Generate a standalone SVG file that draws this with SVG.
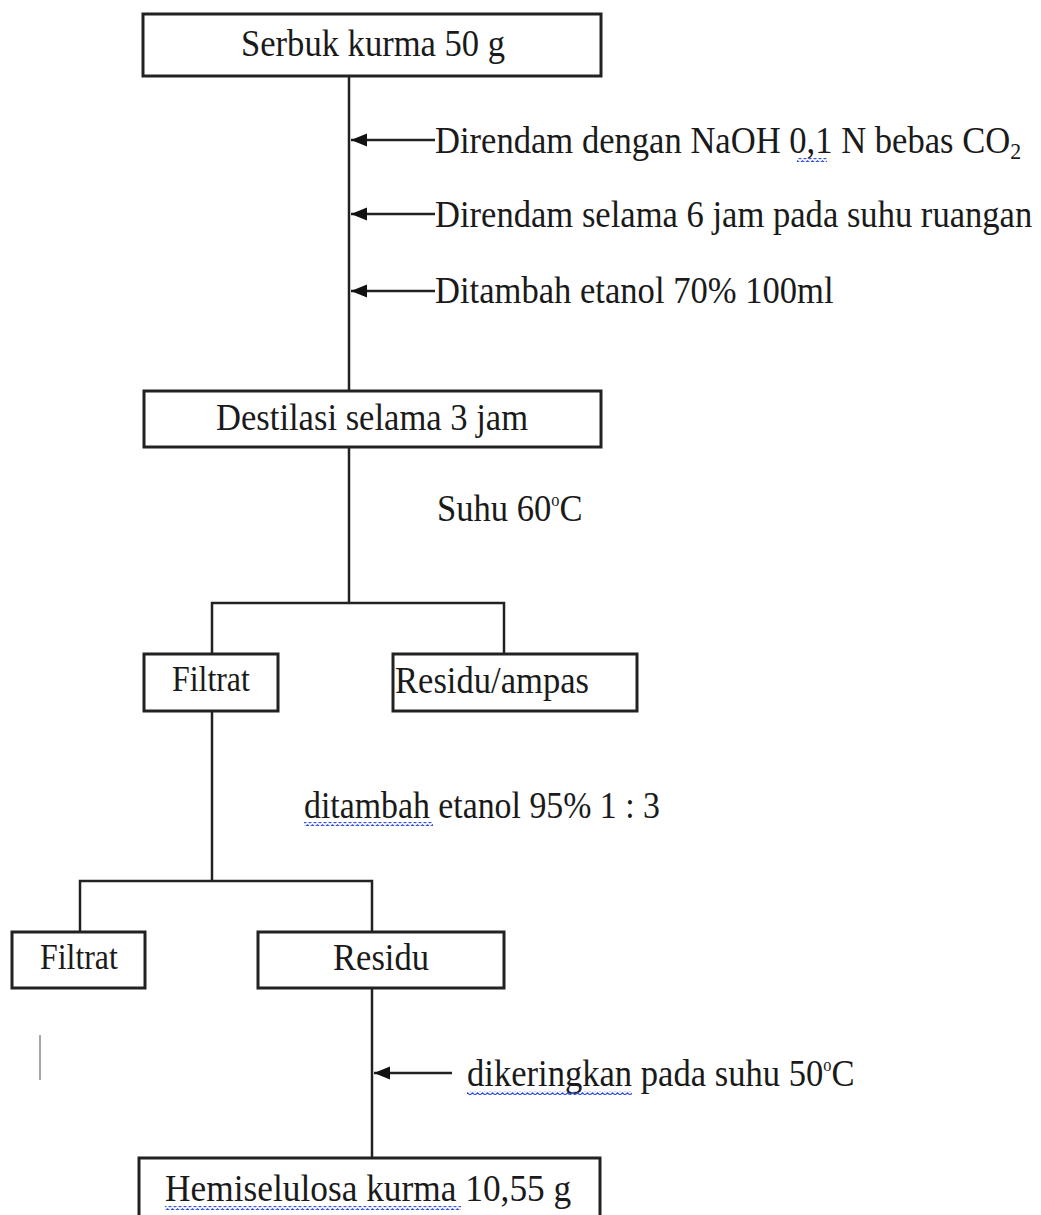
<svg xmlns="http://www.w3.org/2000/svg" width="1041" height="1215" viewBox="0 0 1041 1215">
<style>
.box{fill:#fff;stroke:#222;stroke-width:3}
.ln{stroke:#222;stroke-width:2.5;fill:none}
.t{font-family:"Liberation Serif","Times New Roman",serif;font-size:38px;fill:#1a1a1a}
.ts{font-family:"Liberation Serif","Times New Roman",serif;font-size:35px;fill:#1a1a1a}
.sq{fill:url(#squig)}
</style>
<defs>
<marker id="ah" markerUnits="userSpaceOnUse" markerWidth="16" markerHeight="14" refX="16" refY="7" orient="auto">
<path d="M16,7 L0,0.5 L0,13.5 Z" fill="#111"/>
</marker>
<pattern id="squig" patternUnits="userSpaceOnUse" width="5" height="4">
<path d="M0,3 L2.5,0.8 L5,3" stroke="#3050e0" stroke-width="1.2" fill="none"/>
</pattern>
</defs>
<rect width="1041" height="1215" fill="#fff"/>
<g id="connectors">
<line class="ln" x1="349" y1="76" x2="349" y2="391"/>
<line class="ln" x1="435" y1="140" x2="351" y2="140" marker-end="url(#ah)"/>
<line class="ln" x1="435" y1="214" x2="351" y2="214" marker-end="url(#ah)"/>
<line class="ln" x1="435" y1="291" x2="351" y2="291" marker-end="url(#ah)"/>
<line class="ln" x1="349" y1="447" x2="349" y2="603"/>
<polyline class="ln" points="212,654 212,603 504,603 504,654"/>
<line class="ln" x1="212" y1="711" x2="212" y2="881"/>
<polyline class="ln" points="80,932 80,881 372,881 372,932"/>
<line class="ln" x1="372" y1="988" x2="372" y2="1158"/>
<line class="ln" x1="452" y1="1073" x2="374" y2="1073" marker-end="url(#ah)"/>
<line x1="40" y1="1035" x2="40" y2="1080" stroke="#888" stroke-width="1.5"/>
</g>
<g id="node-serbuk">
<rect class="box" x="143" y="14" width="458" height="62"/>
<text class="t" transform="translate(241,56) scale(0.91,1)">Serbuk kurma 50 g</text>
</g>
<g id="label-naoh">
<text class="t" transform="translate(435,153) scale(0.91,1)">Direndam dengan NaOH 0,1 N bebas CO<tspan font-size="24" baseline-shift="-6">2</tspan></text>
<rect class="sq" x="797" y="158" width="30" height="4"/>
</g>
<g id="label-rendam">
<text class="t" transform="translate(435,227) scale(0.91,1)">Direndam selama 6 jam pada suhu ruangan</text>
</g>
<g id="label-etanol70">
<text class="t" transform="translate(435,303) scale(0.91,1)">Ditambah etanol 70% 100ml</text>
</g>
<g id="node-destilasi">
<rect class="box" x="144" y="391" width="457" height="56"/>
<text class="t" transform="translate(216,430) scale(0.91,1)">Destilasi selama 3 jam</text>
</g>
<g id="label-suhu60">
<text class="t" transform="translate(437,521) scale(0.91,1)">Suhu 60<tspan font-size="18" baseline-shift="15">o</tspan>C</text>
</g>
<g id="node-filtrat1">
<rect class="box" x="144" y="654" width="134" height="57"/>
<text class="ts" transform="translate(172,691) scale(0.91,1)">Filtrat</text>
</g>
<g id="node-residu-ampas">
<rect class="box" x="393" y="654" width="244" height="57"/>
<text class="t" transform="translate(395,693) scale(0.91,1)">Residu/ampas</text>
</g>
<g id="label-etanol95">
<text class="t" transform="translate(304,818) scale(0.89,1)">ditambah etanol 95% 1 : 3</text>
<rect class="sq" x="304" y="822" width="129" height="4"/>
</g>
<g id="node-filtrat2">
<rect class="box" x="12" y="932" width="133" height="56"/>
<text class="ts" transform="translate(40,969) scale(0.91,1)">Filtrat</text>
</g>
<g id="node-residu">
<rect class="box" x="258" y="932" width="246" height="56"/>
<text class="t" transform="translate(333,970) scale(0.91,1)">Residu</text>
</g>
<g id="label-kering">
<text class="t" transform="translate(467,1086) scale(0.91,1)">dikeringkan pada suhu 50<tspan font-size="18" baseline-shift="15">o</tspan>C</text>
<rect class="sq" x="467" y="1091" width="165" height="4"/>
</g>
<g id="node-hemiselulosa">
<rect class="box" x="139" y="1158" width="461" height="80"/>
<text class="t" transform="translate(165,1201) scale(0.93,1)">Hemiselulosa kurma 10,55 g</text>
<rect class="sq" x="165" y="1206" width="296" height="4"/>
</g>
</svg>
